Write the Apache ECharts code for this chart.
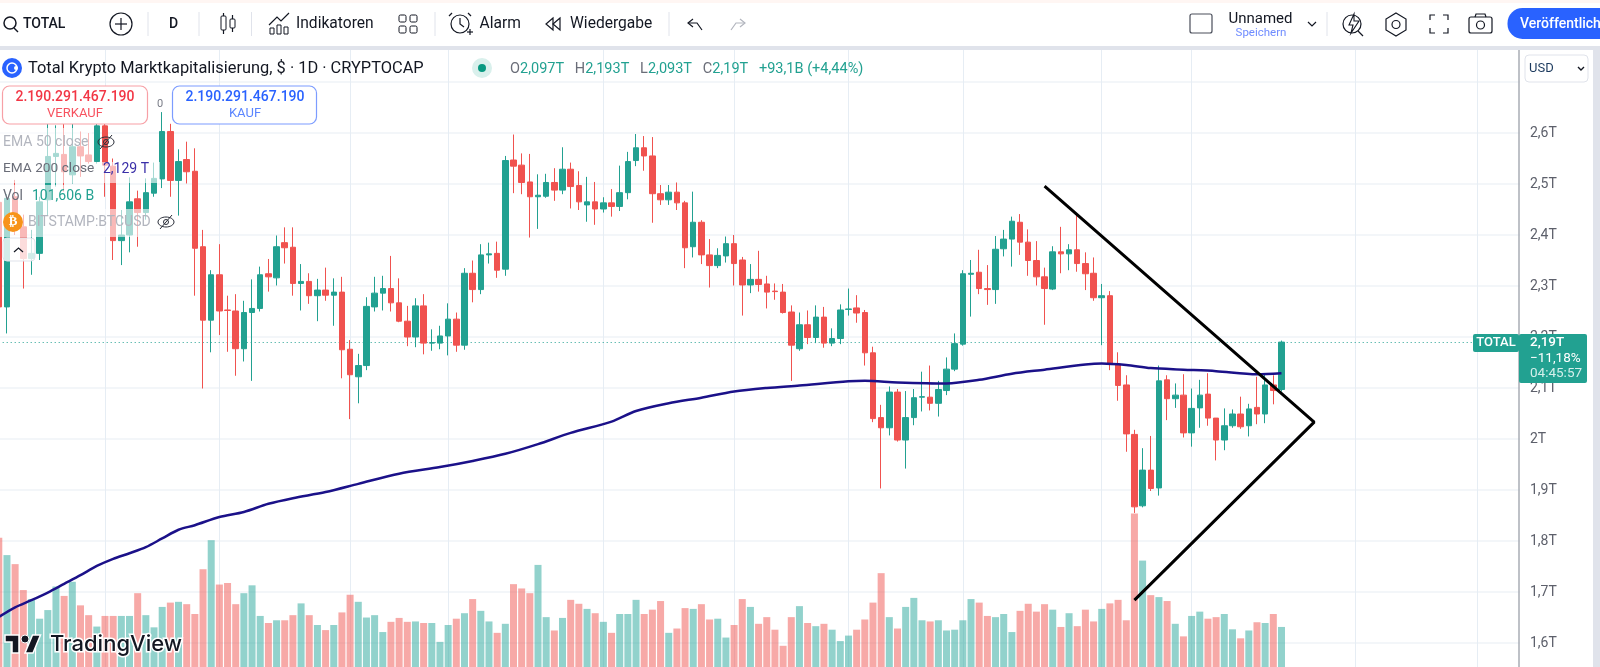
<!DOCTYPE html>
<html>
<head>
<meta charset="utf-8">
<title>Total Krypto Marktkapitalisierung</title>
<script src="https://cdn.jsdelivr.net/npm/echarts@6/dist/echarts.min.js"></script>
<style>
html, body { margin: 0; padding: 0; background: #fff; }
#chart { width: 1600px; height: 667px; }
</style>
</head>
<body>
<div id="chart"></div>
<script>
var opens = [
    2.464, 2.259, 2.475, 2.416, 2.354, 2.364, 2.469, 2.554, 2.558, 2.518,
    2.573, 2.557, 2.544, 2.614, 2.535, 2.389, 2.400, 2.471, 2.444, 2.482,
    2.510, 2.603, 2.507, 2.548, 2.525, 2.377, 2.233, 2.322, 2.253, 2.251,
    2.177, 2.248, 2.256, 2.324, 2.316, 2.385, 2.376, 2.305, 2.309, 2.281,
    2.292, 2.282, 2.288, 2.176, 2.122, 2.144, 2.259, 2.286, 2.295, 2.267,
    2.231, 2.200, 2.261, 2.188, 2.188, 2.202, 2.235, 2.184, 2.325, 2.293,
    2.361, 2.364, 2.333, 2.547, 2.537, 2.504, 2.475, 2.476, 2.503, 2.488,
    2.529, 2.497, 2.459, 2.465, 2.451, 2.463, 2.456, 2.483, 2.546, 2.571,
    2.555, 2.481, 2.469, 2.484, 2.463, 2.377, 2.425, 2.361, 2.340, 2.359,
    2.383, 2.351, 2.302, 2.313, 2.304, 2.290, 2.288, 2.249, 2.177, 2.224,
    2.199, 2.239, 2.188, 2.197, 2.254, 2.257, 2.248, 2.169, 2.042, 2.022,
    2.092, 1.998, 2.042, 2.082, 2.082, 2.070, 2.095, 2.137, 2.186, 2.323,
    2.327, 2.295, 2.293, 2.373, 2.392, 2.425, 2.386, 2.350, 2.318, 2.294,
    2.367, 2.363, 2.371, 2.344, 2.325, 2.277, 2.281, 2.147, 2.106, 2.009,
    1.869, 1.939, 1.904, 2.116, 2.079, 2.086, 2.012, 2.061, 2.088, 2.041,
    1.998, 2.026, 2.049, 2.026, 2.062, 2.049, 2.106, 2.097
];
var highs = [
    2.480, 2.480, 2.508, 2.440, 2.410, 2.475, 2.620, 2.615, 2.620, 2.620,
    2.603, 2.600, 2.630, 2.630, 2.550, 2.449, 2.513, 2.487, 2.511, 2.542,
    2.641, 2.618, 2.568, 2.583, 2.570, 2.410, 2.331, 2.382, 2.281, 2.284,
    2.271, 2.313, 2.338, 2.353, 2.399, 2.415, 2.415, 2.343, 2.325, 2.314,
    2.336, 2.315, 2.318, 2.194, 2.167, 2.278, 2.318, 2.320, 2.359, 2.315,
    2.261, 2.276, 2.284, 2.215, 2.222, 2.266, 2.248, 2.335, 2.350, 2.382,
    2.385, 2.387, 2.555, 2.597, 2.560, 2.559, 2.519, 2.520, 2.531, 2.572,
    2.542, 2.525, 2.514, 2.504, 2.474, 2.490, 2.536, 2.563, 2.598, 2.594,
    2.592, 2.498, 2.498, 2.503, 2.467, 2.485, 2.429, 2.392, 2.374, 2.397,
    2.400, 2.357, 2.343, 2.369, 2.320, 2.305, 2.304, 2.262, 2.248, 2.252,
    2.262, 2.259, 2.217, 2.264, 2.295, 2.282, 2.253, 2.181, 2.067, 2.103,
    2.098, 2.094, 2.098, 2.132, 2.144, 2.114, 2.160, 2.207, 2.331, 2.351,
    2.371, 2.341, 2.398, 2.410, 2.436, 2.441, 2.411, 2.388, 2.336, 2.378,
    2.416, 2.382, 2.442, 2.366, 2.356, 2.304, 2.290, 2.170, 2.125, 2.018,
    1.982, 2.006, 2.144, 2.125, 2.109, 2.127, 2.099, 2.116, 2.129, 2.041,
    2.060, 2.058, 2.083, 2.069, 2.122, 2.129, 2.125, 2.193
];
var lows = [
    2.250, 2.207, 2.400, 2.295, 2.322, 2.351, 2.439, 2.495, 2.485, 2.501,
    2.514, 2.540, 2.540, 2.475, 2.351, 2.341, 2.366, 2.377, 2.430, 2.475,
    2.492, 2.475, 2.438, 2.501, 2.281, 2.099, 2.170, 2.204, 2.171, 2.124,
    2.152, 2.114, 2.250, 2.289, 2.301, 2.344, 2.281, 2.252, 2.265, 2.231,
    2.271, 2.222, 2.119, 2.039, 2.070, 2.135, 2.250, 2.252, 2.250, 2.229,
    2.182, 2.180, 2.166, 2.173, 2.176, 2.164, 2.171, 2.175, 2.268, 2.284,
    2.344, 2.316, 2.320, 2.482, 2.480, 2.395, 2.412, 2.473, 2.467, 2.480,
    2.452, 2.449, 2.426, 2.420, 2.444, 2.436, 2.447, 2.470, 2.535, 2.526,
    2.424, 2.459, 2.459, 2.449, 2.335, 2.356, 2.343, 2.297, 2.335, 2.346,
    2.301, 2.242, 2.286, 2.289, 2.256, 2.273, 2.246, 2.114, 2.173, 2.186,
    2.188, 2.179, 2.182, 2.186, 2.242, 2.228, 2.144, 2.033, 1.903, 2.007,
    1.995, 1.942, 2.027, 2.054, 2.056, 2.044, 2.086, 2.133, 2.183, 2.240,
    2.284, 2.263, 2.265, 2.358, 2.338, 2.361, 2.320, 2.301, 2.224, 2.292,
    2.325, 2.331, 2.328, 2.292, 2.271, 2.184, 2.135, 2.075, 1.975, 1.855,
    1.866, 1.898, 1.889, 2.037, 2.061, 2.003, 1.985, 2.022, 2.026, 1.958,
    1.978, 2.022, 2.020, 2.005, 2.029, 2.031, 2.068, 2.093
];
var closes = [
    2.259, 2.472, 2.426, 2.354, 2.364, 2.465, 2.554, 2.560, 2.524, 2.573,
    2.555, 2.544, 2.614, 2.537, 2.389, 2.400, 2.465, 2.444, 2.483, 2.511,
    2.603, 2.507, 2.544, 2.524, 2.374, 2.233, 2.322, 2.251, 2.252, 2.177,
    2.248, 2.256, 2.322, 2.318, 2.377, 2.375, 2.305, 2.309, 2.281, 2.292,
    2.282, 2.288, 2.175, 2.126, 2.144, 2.260, 2.286, 2.295, 2.267, 2.231,
    2.200, 2.261, 2.188, 2.189, 2.202, 2.235, 2.184, 2.325, 2.293, 2.361,
    2.363, 2.331, 2.546, 2.535, 2.503, 2.475, 2.478, 2.503, 2.488, 2.529,
    2.495, 2.465, 2.465, 2.451, 2.463, 2.456, 2.483, 2.544, 2.571, 2.555,
    2.481, 2.469, 2.484, 2.463, 2.375, 2.425, 2.361, 2.340, 2.360, 2.383,
    2.344, 2.302, 2.313, 2.303, 2.288, 2.289, 2.248, 2.184, 2.224, 2.199,
    2.239, 2.188, 2.197, 2.253, 2.255, 2.247, 2.169, 2.040, 2.022, 2.092,
    1.998, 2.042, 2.081, 2.083, 2.070, 2.097, 2.137, 2.187, 2.324, 2.325,
    2.295, 2.293, 2.372, 2.392, 2.427, 2.386, 2.350, 2.318, 2.295, 2.367,
    2.363, 2.371, 2.344, 2.324, 2.277, 2.281, 2.146, 2.105, 2.010, 1.867,
    1.939, 1.903, 2.114, 2.079, 2.086, 2.012, 2.060, 2.086, 2.041, 1.998,
    2.026, 2.049, 2.024, 2.059, 2.049, 2.106, 2.095, 2.190
];
// Volumen in Mrd. USD
var volumes = [
    329, 285, 262, 196, 173, 123, 145, 205, 181, 217,
    157, 132, 103, 130, 130, 130, 130, 188, 132, 101,
    153, 164, 166, 160, 135, 249, 323, 210, 214, 160,
    188, 208, 130, 112, 119, 119, 132, 162, 132, 107,
    94, 107, 139, 184, 166, 126, 132, 89, 115, 125,
    115, 116, 112, 112, 64, 107, 123, 137, 173, 143,
    116, 87, 110, 211, 200, 188, 260, 127, 93, 125,
    171, 161, 148, 137, 115, 87, 135, 135, 171, 135,
    146, 168, 87, 98, 150, 148, 160, 121, 123, 75,
    107, 173, 153, 110, 127, 95, 54, 127, 155, 112,
    104, 110, 95, 66, 80, 95, 121, 164, 239, 127,
    98, 153, 176, 119, 116, 119, 93, 95, 119, 173,
    164, 130, 127, 135, 89, 143, 161, 141, 160, 146,
    102, 137, 104, 146, 116, 148, 162, 171, 119, 391,
    271, 183, 178, 168, 110, 78, 130, 141, 123, 127,
    135, 96, 73, 93, 114, 112, 135, 102
];
// EMA 200, Stuetzstellen (Kerzenindex / Wert)
var emaIdx = [0, 2, 4, 6, 8, 10, 12, 14, 16, 18, 20, 22, 24, 27, 30, 33, 36, 40, 44, 49, 54, 58, 62, 66, 70, 75, 78, 82, 86, 90, 94, 98, 104, 106, 110, 116, 120, 124, 128, 133, 135, 138, 141, 145, 149, 154, 157];
var emaVal = [1.651, 1.670, 1.684, 1.699, 1.716, 1.733, 1.751, 1.765, 1.776, 1.788, 1.805, 1.822, 1.831, 1.847, 1.857, 1.873, 1.884, 1.896, 1.912, 1.932, 1.945, 1.957, 1.971, 1.990, 2.012, 2.034, 2.055, 2.070, 2.081, 2.093, 2.100, 2.105, 2.113, 2.114, 2.111, 2.109, 2.116, 2.128, 2.136, 2.146, 2.148, 2.145, 2.139, 2.136, 2.133, 2.127, 2.129];
// Gezeichnetes Dreieck: Kerzenindex / Preis
var wedgeIdx = [128, 161, 139];
var wedgeVal = [2.496, 2.033, 1.684];
// Monats- und Wochenraster
var dayTicks = [13, 27, 43, 55, 74, 90, 104, 118, 135, 146, 166, 181];
var priceLabels = ['2,6T', '2,5T', '2,4T', '2,3T', '2,2T', '2,1T', '2T', '1,9T', '1,8T', '1,7T', '1,6T'];
var slotCount = 187; // 158 Kerzen plus Platz rechts

var UP = '#22a191', DOWN = '#f0524f', UP_VOL = 'rgba(38,166,154,0.5)', DOWN_VOL = 'rgba(239,83,80,0.5)';
var FONT = 'Roboto, "Noto Sans", sans-serif';

var categories = [];
for (var s = 0; s < slotCount; s++) { categories.push(String(s)); }

var candleData = [], volumeData = [], emaData = [], wedgeData = [], markData = [];
for (var i = 0; i < opens.length; i++) {
    candleData.push([opens[i], closes[i], lows[i], highs[i]]);
    volumeData.push({ value: volumes[i], itemStyle: { color: closes[i] >= opens[i] ? UP_VOL : DOWN_VOL } });
}
for (var e = 0; e < emaIdx.length; e++) { emaData.push([emaIdx[e], emaVal[e]]); }
for (var w = 0; w < wedgeIdx.length; w++) { wedgeData.push([wedgeIdx[w], wedgeVal[w]]); }
for (var d = 0; d < dayTicks.length; d++) {
    markData.push({ xAxis: dayTicks[d], lineStyle: { color: '#e6edf4', width: 1, type: 'solid' } });
}
markData.push({ yAxis: closes[closes.length - 1], lineStyle: { color: '#22a191', width: 1, type: [1, 3] } });

// Overlay: Toolbar, Legende, Buttons
var els = [];
function txt(x, y, text, fill, font, align) {
    els.push({ type: 'text', z: 100, silent: true, style: {
        x: x, y: y, text: text, fill: fill, font: font || ('14px ' + FONT),
        textAlign: align || 'left', align: align || 'left',
        textVerticalAlign: 'middle', verticalAlign: 'middle'
    } });
}
function box(x, y, w, h, fill, stroke, r, lw) {
    els.push({ type: 'rect', z: 99, silent: true, shape: { x: x, y: y, width: w, height: h, r: r || 0 },
        style: { fill: fill || 'none', stroke: stroke || 'none', lineWidth: lw || 1 } });
}
function seg(pts, color, lw) {
    els.push({ type: 'polyline', z: 100, silent: true, shape: { points: pts },
        style: { fill: 'none', stroke: color || '#131722', lineWidth: lw || 1.2 } });
}
function ring(x, y, r, color, fill, lw) {
    els.push({ type: 'circle', z: 100, silent: true, shape: { cx: x, cy: y, r: r },
        style: { fill: fill || 'none', stroke: color === null ? 'none' : (color || '#131722'), lineWidth: lw || 1.2 } });
}
function poly(pts, fill, stroke, lw) {
    els.push({ type: 'polygon', z: 100, silent: true, shape: { points: pts },
        style: { fill: fill || 'none', stroke: stroke || 'none', lineWidth: lw || 1 } });
}
function eyeOff(x, y) {
    els.push({ type: 'ellipse', z: 100, silent: true, shape: { cx: x, cy: y, rx: 8, ry: 5 },
        style: { fill: 'none', stroke: '#2a2e39', lineWidth: 1 } });
    ring(x, y, 2.5, '#2a2e39', null, 1);
    seg([[x - 6, y + 7], [x + 6, y - 7]], '#2a2e39', 1);
}

// Rahmen
box(0, 0, 1600, 46, '#ffffff');
box(0, 0, 1600, 3, '#fff6f3');
box(0, 46, 1600, 4, '#e0e3eb');
box(1593, 46, 7, 621, '#e0e3eb');
box(1520, 50, 8, 617, '#ffffff');

// Toolbar links
ring(10, 23, 6, '#131722', null, 1.5);
seg([[14, 28], [18, 32]], '#131722', 1.5);
txt(23, 24, 'TOTAL', '#131722', '500 14px ' + FONT);
ring(121, 24, 11, '#131722');
seg([[115, 24], [127, 24]]);
seg([[121, 18], [121, 30]]);
seg([[148, 12], [148, 36]], '#e0e3eb', 1);
txt(173.5, 24, 'D', '#131722', '500 14px ' + FONT, 'center');
seg([[199, 12], [199, 36]], '#e0e3eb', 1);
box(221, 16, 5, 14, '#ffffff', '#131722', 1);
seg([[223.5, 13], [223.5, 16]]);
seg([[223.5, 30], [223.5, 34]]);
box(230, 19, 5, 9, '#ffffff', '#131722', 1);
seg([[232.5, 15], [232.5, 19]]);
seg([[232.5, 28], [232.5, 32]]);
seg([[251.5, 12], [251.5, 36]], '#e0e3eb', 1);
seg([[269, 25], [277, 17], [281, 21], [289, 13]]);
box(270, 28, 4, 6, null, '#131722');
box(277, 25, 4, 9, null, '#131722');
box(284, 27, 4, 7, null, '#131722');
txt(296, 24, 'Indikatoren', '#131722', '15.6px ' + FONT);
box(399, 15, 7, 7, null, '#131722', 1.5);
box(410, 15, 7, 7, null, '#131722', 1.5);
box(399, 26, 7, 7, null, '#131722', 1.5);
box(410, 26, 7, 7, null, '#131722', 1.5);
seg([[435, 12], [435, 36]], '#e0e3eb', 1);
ring(460, 24, 9);
seg([[460, 18], [460, 24], [464, 27]]);
seg([[452, 13], [449, 16]]);
seg([[468, 13], [471, 16]]);
seg([[467, 32], [473, 32]]);
seg([[470, 29], [470, 35]]);
txt(479.5, 24, 'Alarm', '#131722', '15.6px ' + FONT);
poly([[553, 18], [546, 24], [553, 30]], null, '#131722', 1.2);
poly([[560, 18], [553, 24], [560, 30]], null, '#131722', 1.2);
txt(570, 24, 'Wiedergabe', '#131722', '15.6px ' + FONT);
seg([[669, 12], [669, 36]], '#e0e3eb', 1);
seg([[693, 19], [688, 23], [693, 27]]);
seg([[688, 23], [697, 23], [702, 30]]);
seg([[740, 19], [745, 23], [740, 27]], '#b2b5be');
seg([[745, 23], [736, 23], [731, 30]], '#b2b5be');

// Toolbar rechts
box(1190, 14, 22, 19, '#ffffff', '#4a4e5a', 2, 1.2);
txt(1228.5, 19, 'Unnamed', '#131722', '15px ' + FONT);
txt(1261, 33, 'Speichern', '#6f8cff', '11.5px ' + FONT, 'center');
seg([[1308, 22], [1312, 26], [1316, 22]]);
seg([[1327, 12], [1327, 36]], '#e0e3eb', 1);
ring(1352, 24, 9);
seg([[1358, 31], [1363, 36]]);
poly([[1354, 14], [1349, 25], [1353, 25], [1351, 33], [1359, 21], [1354, 21]], '#ffffff', '#131722', 1.1);
poly([[1396, 13], [1406, 19], [1406, 30], [1396, 36], [1386, 30], [1386, 19]], null, '#131722', 1.2);
ring(1396, 24.5, 4);
seg([[1430, 20], [1430, 15], [1435, 15]]);
seg([[1443, 15], [1448, 15], [1448, 20]]);
seg([[1430, 28], [1430, 33], [1435, 33]]);
seg([[1443, 33], [1448, 33], [1448, 28]]);
box(1469, 17, 23, 16, null, '#131722', 2, 1.2);
seg([[1475, 17], [1476, 14], [1485, 14], [1486, 17]]);
ring(1480.5, 25, 4);
box(1507.5, 8, 140, 31, '#2962ff', null, 15);
txt(1520, 24, 'Veröffentlichen', '#ffffff', '500 14px ' + FONT);

// Legendenkopf
ring(12, 68, 10, null, '#2962ff');
ring(12, 68, 5, '#ffffff', null, 1.5);
ring(16, 68, 2, null, '#ffffff');
txt(28, 69, 'Total Krypto Marktkapitalisierung, $ · 1D · CRYPTOCAP', '#131722', '16.4px ' + FONT);
ring(482, 68, 10, null, '#d9f0ec');
ring(482, 68, 4, null, '#089981');
els.push({ type: 'text', z: 100, silent: true, style: {
    x: 510, y: 69, textVerticalAlign: 'middle', verticalAlign: 'middle',
    text: '{g|O}{t|2,097T}   {g|H}{t|2,193T}   {g|L}{t|2,093T}   {g|C}{t|2,19T}   {t|+93,1B (+4,44%)}',
    font: '14.5px ' + FONT,
    rich: {
        g: { fill: '#6a6d78', font: '14.5px ' + FONT },
        t: { fill: '#22a191', font: '14.5px ' + FONT }
    }
} });

// Kauf / Verkauf
box(2.5, 86, 145, 38, '#ffffff', '#f7a0a6', 7, 1.2);
txt(75, 97, '2.190.291.467.190', '#f23645', '500 14px ' + FONT, 'center');
txt(75, 114, 'VERKAUF', '#f7525f', '13px ' + FONT, 'center');
txt(160, 104, '0', '#787b86', '11px ' + FONT, 'center');
box(172.5, 86, 144, 38, '#ffffff', '#7c9cff', 7, 1.2);
txt(245, 97, '2.190.291.467.190', '#2962ff', '500 14px ' + FONT, 'center');
txt(245, 114, 'KAUF', '#5b85ff', '13px ' + FONT, 'center');

// Legendenzeilen mit halbtransparentem Hintergrund
box(0, 128, 92, 34, 'rgba(255,255,255,0.6)');
box(0, 162, 160, 21, 'rgba(255,255,255,0.6)');
box(0, 185, 100, 24, 'rgba(255,255,255,0.6)');
box(0, 209, 150, 28, 'rgba(255,255,255,0.6)');
txt(3, 142, 'EMA 50 close', '#b2b5be', '14px ' + FONT);
eyeOff(106, 142);
txt(3, 169, 'EMA 200 close', '#6a6d78', '13.7px ' + FONT);
txt(103, 169, '2,129 T', '#3a2fa8', '14px ' + FONT);
txt(3, 196, 'Vol', '#6a6d78', '14px ' + FONT);
txt(32, 196, '101,606 B', '#22a191', '14px ' + FONT);
ring(13, 222, 10, null, '#f7931a');
txt(13, 222, '₿', '#ffffff', 'bold 13px "DejaVu Sans"', 'center');
txt(28, 222, 'BITSTAMP:BTCUSD', '#b2b5be', '14px ' + FONT);
eyeOff(166, 222);
box(3, 238, 32, 23, 'rgba(255,255,255,0.8)', '#e0e3eb', 4);
seg([[14, 252], [18.5, 248], [23, 252]], '#131722', 1.2);

// USD Auswahl
box(1525, 55, 63, 27, '#ffffff', '#e0e3eb', 4);
txt(1529, 69, 'USD', '#1c3a5e', '13px ' + FONT);
seg([[1578, 67], [1581, 70], [1584, 67]], '#131722', 1.4);

// Kursmarke
box(1473, 334, 46, 18, '#22a191', null, 2);
txt(1496, 343, 'TOTAL', '#ffffff', '500 13px ' + FONT, 'center');
box(1519, 334, 68, 49, '#22a191', null, 2);
txt(1530, 343, '2,19T', '#ffffff', '500 13.5px ' + FONT);
txt(1530, 359, '−11,18%', '#ffffff', '13.5px ' + FONT);
txt(1530, 374, '04:45:57', '#d5efeb', '13.5px ' + FONT);

// TradingView Logo
var LX = 5, LY = 631;
function lp(pts) {
    var out = [];
    for (var k = 0; k < pts.length; k++) { out.push([LX + pts[k][0], LY + pts[k][1]]); }
    return out;
}
poly(lp([[0, 4], [14, 4], [14, 22], [7, 22], [7, 11], [0, 11]]), '#131722', '#ffffff', 1.5);
poly(lp([[27.5, 4], [35.5, 4], [28, 22], [20, 22]]), '#131722', '#ffffff', 1.5);
ring(LX + 20, LY + 8, 4, '#ffffff', '#131722', 1);
els.push({ type: 'text', z: 100, silent: true, style: {
    x: 50, y: 644, text: 'TradingView', fill: '#131722', stroke: '#ffffff', lineWidth: 3,
    font: '500 22px Inter, ' + FONT,
    textVerticalAlign: 'middle', verticalAlign: 'middle'
} });

var myChart = echarts.init(document.getElementById('chart'), null, { renderer: 'canvas' });
myChart.setOption({
    animation: false,
    backgroundColor: '#ffffff',
    grid: [
        { left: -5.3, width: 1527.8, top: 31, bottom: -27, outerBoundsMode: 'none' },
        { left: -5.3, width: 1527.8, top: 400, bottom: 0, outerBoundsMode: 'none' }
    ],
    xAxis: [
        { type: 'category', data: categories, show: false, gridIndex: 0 },
        { type: 'category', data: categories, show: false, gridIndex: 1 }
    ],
    yAxis: [
        {
            type: 'value', gridIndex: 0, position: 'right', offset: -3.5,
            min: 1.5, max: 2.8, interval: 0.1,
            axisLine: { show: true, lineStyle: { color: '#a9acb5', width: 1.5 } },
            axisTick: { show: false },
            axisLabel: {
                margin: 11, color: '#5d606b', fontSize: 14, fontFamily: 'Roboto, sans-serif',
                formatter: function (v) {
                    var t = String(+v.toFixed(1)).replace('.', ',') + 'T';
                    return priceLabels.indexOf(t) >= 0 ? t : '';
                }
            },
            splitLine: { show: true, lineStyle: { color: '#eff3f7', width: 1.5 } }
        },
        { type: 'value', gridIndex: 1, show: false, min: 0, max: 680, splitLine: { show: false } }
    ],
    series: [
        {
            name: 'Vol', type: 'bar', xAxisIndex: 1, yAxisIndex: 1, z: 2, silent: true,
            barWidth: 7, data: volumeData
        },
        {
            name: 'TOTAL', type: 'candlestick', z: 3, silent: true, barWidth: 6,
            itemStyle: { color: UP, color0: DOWN, borderColor: UP, borderColor0: DOWN, borderWidth: 1 },
            data: candleData
        },
        {
            name: 'EMA 200', type: 'line', z: 4, silent: true, showSymbol: false, smooth: 0.3,
            lineStyle: { color: '#1b1189', width: 2.5 },
            data: emaData,
            markLine: {
                silent: true, symbol: 'none', z: 1, animation: false,
                label: { show: false },
                data: markData
            }
        },
        {
            name: 'Dreieck', type: 'line', z: 5, silent: true, showSymbol: false,
            lineStyle: { color: '#000000', width: 3 },
            data: wedgeData
        }
    ],
    graphic: { elements: els }
});
</script>
</body>
</html>
